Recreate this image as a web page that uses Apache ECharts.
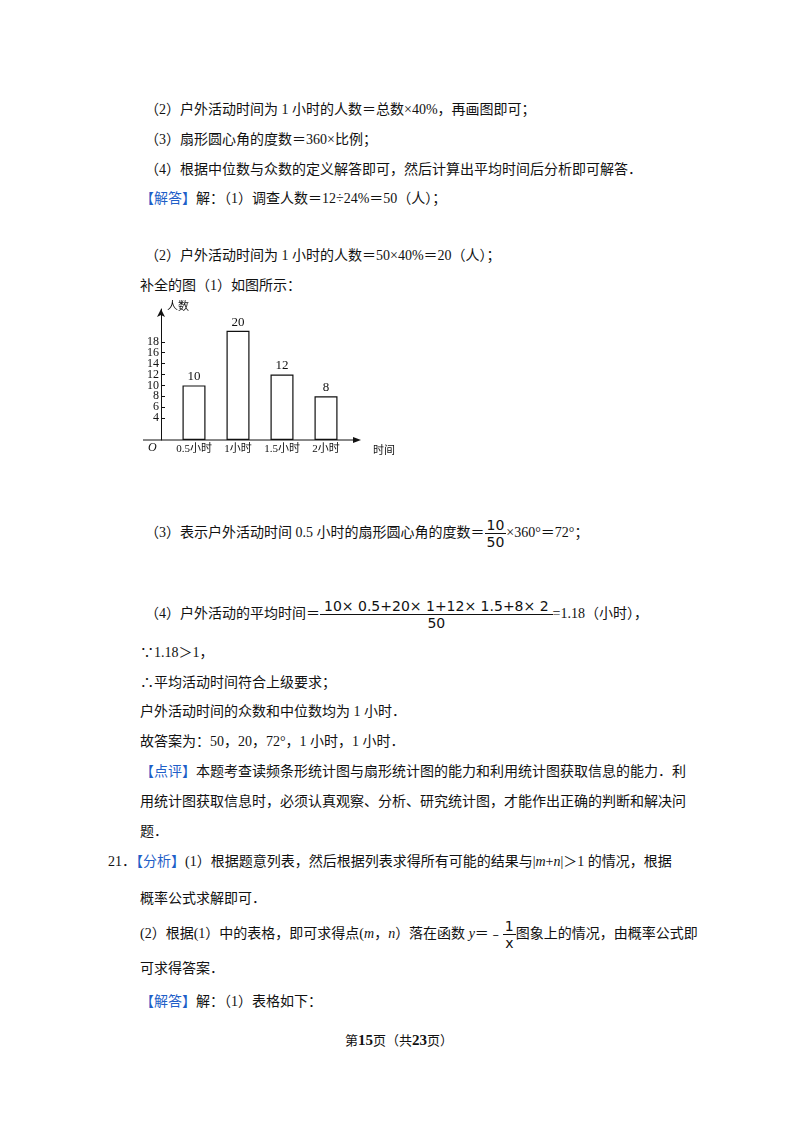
<!DOCTYPE html>
<html><head><meta charset="utf-8">
<script src="https://cdn.jsdelivr.net/npm/echarts@6/dist/echarts.min.js"></script>
<style>
body{margin:0;width:800px;height:1132px;background:#fff;position:relative;font-family:"Liberation Serif","Noto Sans CJK SC",serif;font-size:14px;color:#111;}
.t{position:absolute;white-space:nowrap;line-height:20px;}
.b{color:#1f5fc8;}
.fr{display:inline-block;vertical-align:middle;text-align:center;font-family:"DejaVu Sans",sans-serif;}
.fr span{display:block;padding:0 2px;}
.fr .n{border-bottom:1px solid #111;}
#chart{position:absolute;left:130px;top:295px;width:270px;height:170px;}
</style></head><body>
<div class="t" style="left:145px;top:100px">（2）户外活动时间为 1 小时的人数＝总数×40%，再画图即可；</div>
<div class="t" style="left:145px;top:130px">（3）扇形圆心角的度数＝360×比例；</div>
<div class="t" style="left:145px;top:160px">（4）根据中位数与众数的定义解答即可，然后计算出平均时间后分析即可解答．</div>
<div class="t" style="left:140px;top:189px"><span class="b">【解答】</span>解：（1）调查人数＝12÷24%＝50（人）；</div>
<div class="t" style="left:145px;top:246px">（2）户外活动时间为 1 小时的人数＝50×40%＝20（人）；</div>
<div class="t" style="left:140px;top:276px">补全的图（1）如图所示：</div>
<div id="chart"></div>
<div class="t" style="left:145px;top:517px;line-height:normal">（3）表示户外活动时间 0.5 小时的扇形圆心角的度数＝<span class="fr"><span class="n">10</span><span>50</span></span>×360°＝72°；</div>
<div class="t" style="left:145px;top:598px;line-height:normal">（4）户外活动的平均时间＝<span class="fr"><span class="n" style="padding:0 4px">10× 0.5+20× 1+12× 1.5+8× 2</span><span>50</span></span>=1.18（小时），</div>
<div class="t" style="left:140px;top:643px">∵1.18＞1，</div>
<div class="t" style="left:140px;top:673px">∴平均活动时间符合上级要求；</div>
<div class="t" style="left:140px;top:702px">户外活动时间的众数和中位数均为 1 小时．</div>
<div class="t" style="left:140px;top:732px">故答案为：50，20，72°，1 小时，1 小时．</div>
<div class="t" style="left:140px;top:762px"><span class="b">【点评】</span>本题考查读频条形统计图与扇形统计图的能力和利用统计图获取信息的能力．利</div>
<div class="t" style="left:140px;top:792px">用统计图获取信息时，必须认真观察、分析、研究统计图，才能作出正确的判断和解决问</div>
<div class="t" style="left:140px;top:822px">题．</div>
<div class="t" style="left:108px;top:852px">21．<span class="b">【分析】</span>(1）根据题意列表，然后根据列表求得所有可能的结果与|<i>m</i>+<i>n</i>|＞1 的情况，根据</div>
<div class="t" style="left:140px;top:889px">概率公式求解即可．</div>
<div class="t" style="left:140px;top:918px;line-height:normal">(2）根据(1）中的表格，即可求得点(<i>m</i>，<i>n</i>）落在函数 <i>y</i>＝﹣<span class="fr"><span class="n">1</span><span>x</span></span>图象上的情况，由概率公式即</div>
<div class="t" style="left:140px;top:959px">可求得答案．</div>
<div class="t" style="left:140px;top:992px"><span class="b">【解答】</span>解：（1）表格如下：</div>
<div class="t" style="left:345px;top:1030px;font-size:13px">第<b style="font-size:15px">15</b>页（共<b style="font-size:15px">23</b>页）</div>
<script>
var categories = ["0.5小时", "1小时", "1.5小时", "2小时"];
var counts = [10, 20, 12, 8];
var yTicks = [2, 4, 6, 8, 10, 12, 14, 16, 18, 20];

var chart = echarts.init(document.getElementById("chart"));
chart.setOption({
  animation: false,
  textStyle: { fontFamily: "Liberation Serif, Noto Sans CJK SC, serif" },
  grid: { left: 42, width: 176, top: 14, height: 131 },
  xAxis: {
    type: "category", data: categories,
    axisLine: { show: false }, axisTick: { show: false },
    axisLabel: { color: "#111", fontSize: 11, margin: 4, interval: 0 }
  },
  yAxis: {
    type: "value", min: 0, max: 24, interval: 2, offset: 11,
    splitLine: { show: false },
    axisLine: { show: true, lineStyle: { color: "#111" }, symbol: ["none", "arrow"], symbolSize: [6, 8] },
    axisTick: { show: true, inside: true, length: 4, lineStyle: { color: "#111" }, customValues: yTicks },
    axisLabel: { color: "#111", fontSize: 12, margin: 2, customValues: yTicks },
    name: "人数", nameLocation: "end", nameGap: -4,
    nameTextStyle: { color: "#111", fontSize: 11, align: "left", padding: [0, 0, 0, 6] }
  },
  series: [{
    type: "bar", data: counts, barWidth: 23,
    itemStyle: { color: "#fff", borderColor: "#111", borderWidth: 1.2 },
    label: { show: true, position: "top", color: "#111", fontSize: 13, distance: 2 }
  }],
  graphic: [
    { type: "line", shape: { x1: 13, y1: 145, x2: 226, y2: 145 }, style: { stroke: "#111", lineWidth: 1 } },
    { type: "polygon", shape: { points: [[231, 145], [223, 142], [223, 148]] }, style: { fill: "#111" } },
    { type: "text", left: 18, top: 147, style: { text: "O", font: "italic 12px Liberation Serif", fill: "#111" } },
    { type: "text", left: 243, top: 149, style: { text: "时间", font: "11px Noto Sans CJK SC", fill: "#111" } }
  ]
});
</script>
</body></html>
